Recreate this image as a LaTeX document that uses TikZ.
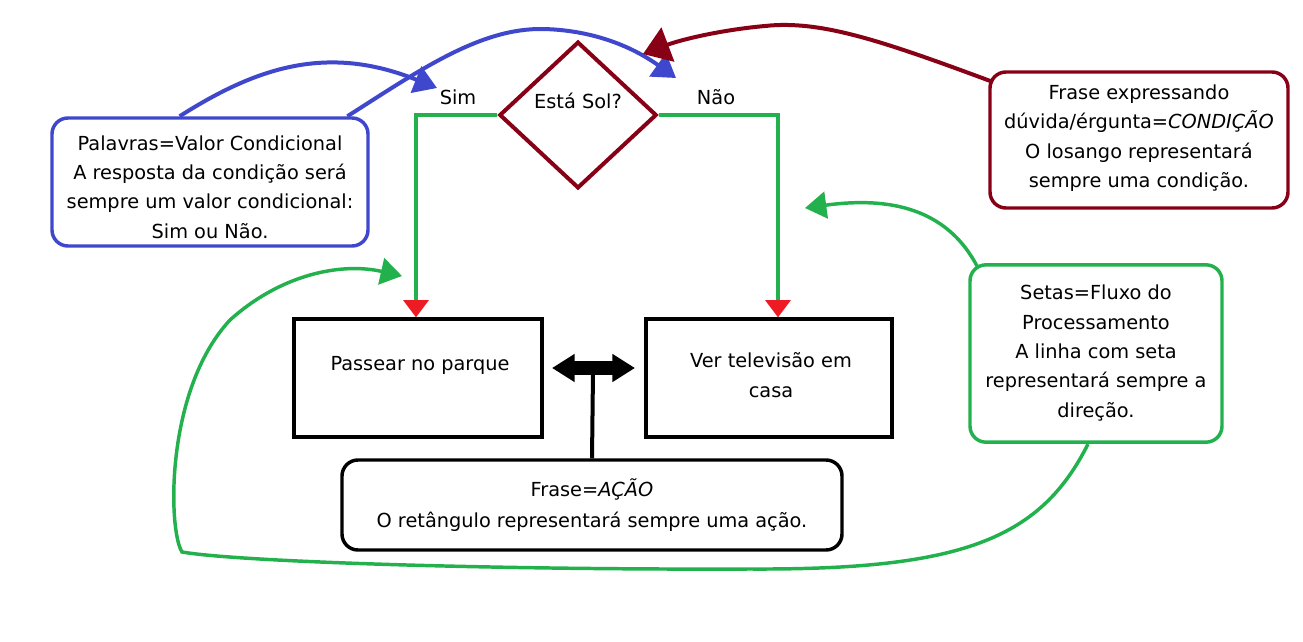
\documentclass[tikz,border=0pt]{standalone}
\usepackage{fontspec}
\setmainfont{DejaVu Sans}
\usetikzlibrary{arrows.meta,shapes.geometric,calc}
\definecolor{cblue}{RGB}{63,72,204}
\definecolor{cred}{RGB}{136,0,21}
\definecolor{cgreen}{RGB}{34,177,76}
\definecolor{cbright}{RGB}{237,28,36}
\begin{document}
\begin{tikzpicture}[x=0.75pt,y=-0.75pt,
  every node/.style={font=\fontsize{14.5}{22}\selectfont, align=center, inner sep=0pt},
  actbox/.style={draw=black, line width=3pt, fill=white},
  notebox/.style={draw, line width=2.6pt, rounded corners=12pt, fill=white},
  flowline/.style={draw=cgreen, line width=2.3pt, -{Triangle[length=13pt,width=19pt,color=cbright]}},
  bluearr/.style={draw=cblue, line width=3pt, -{Triangle[length=17pt,width=21pt]}},
  redarr/.style={draw=cred, line width=3pt, -{Triangle[length=20pt,width=27pt]}},
  greenarr/.style={draw=cgreen, line width=2.6pt, -{Triangle[length=16pt,width=20pt]}}]
\useasboundingbox (0,0) rectangle (1303,642);
\fill[white] (0,0) rectangle (1303,642);

% decision
\node[diamond, draw=cred, line width=3pt, aspect=1.07, minimum width=118pt, minimum height=110pt] (dia) at (578,115) {};
\node (diat) at (578,101) {Está Sol?};
\node (sim) at (458,97) {Sim};
\node (nao) at (716,97) {Não};

% action boxes
\node[actbox, minimum width=186pt, minimum height=88pt] (b1) at (418,378) {};
\node (t1) at (420,365) {Passear no parque};
\node[actbox, minimum width=184pt, minimum height=88pt] (b2) at (769,378) {};
\node (t2) at (771,375) {Ver televisão em\\casa};

% flow lines
\coordinate (s1) at (416,115);
\coordinate (s2) at (778,115);
\draw[flowline] (dia.west) -- (s1) -- (s1 |- b1.north);
\draw[flowline] (dia.east) -- (s2) -- (s2 |- b2.north);

% notes
\node[notebox, draw=black, minimum width=375pt, minimum height=67.5pt] (b3) at (592,505) {Frase=\textit{AÇÃO}\\[1pt]O retângulo representará sempre uma ação.};
\node[notebox, draw=cblue, minimum width=237pt, minimum height=96pt] (bb) at (210,182) {};
\node (bbt) at (210,187) {Palavras=Valor Condicional\\A resposta da condição será\\sempre um valor condicional:\\Sim ou Não.};
\node[notebox, draw=cred, minimum width=223.5pt, minimum height=102pt] (rb) at (1139,140) {};
\node (rbt) at (1139,138) {Frase expressando\\dúvida/érgunta=\textit{CONDIÇÃO}\\O losango representará\\sempre uma condição.};
\node[notebox, draw=cgreen, minimum width=189pt, minimum height=133pt] (gb) at (1096,353.5) {};
\node (gbt) at (1096,353) {Setas=Fluxo do\\Processamento\\A linha com seta\\representará sempre a\\direção.};

% double arrow
\coordinate (da1) at (552,368);
\coordinate (da2) at (635,368);
\coordinate (dam) at (593,372);
\draw[line width=10pt, {Triangle[length=17pt,width=20pt]}-{Triangle[length=17pt,width=20pt]}] (da1) -- (da2);
\draw[line width=3pt] (b3.north) -- (dam);

% blue arrows
\coordinate (bs1) at ($(bb.north west)!0.405!(bb.north east)$);
\coordinate (bs2) at ($(bb.north west)!0.93!(bb.north east)$);
\coordinate (be1) at (437,88);
\coordinate (bp2) at (543,29);
\coordinate (be2) at (676,78);
\draw[bluearr] (bs1) .. controls (260,65) and (330,45) .. (be1);
\draw[bluearr] (bs2) .. controls (420,70) and (480,28) .. (bp2) .. controls (590,30) and (630,45) .. (be2);

% red arrow
\coordinate (rs) at (993,82);
\coordinate (rp) at (765,26);
\coordinate (re) at (643,54);
\draw[redarr] (rs) .. controls (880,40) and (820,20) .. (rp) .. controls (720,30) and (680,40) .. (re);

% green arrows
\coordinate (gs1) at (977,266);
\coordinate (ge1) at (805,208);
\draw[greenarr] (gs1) .. controls (950,215) and (900,195) .. (ge1);
\coordinate (gs2) at (1088,444);
\coordinate (gp1) at (750,569);
\coordinate (gp2) at (182,552);
\coordinate (gp3) at (230,320);
\coordinate (ge2) at (402,276);
\draw[greenarr] (gs2) .. controls (1040,540) and (960,570) .. (gp1) .. controls (500,570) and (240,562) .. (gp2) .. controls (168,530) and (165,390) .. (gp3) .. controls (280,275) and (340,262) .. (ge2);
\end{tikzpicture}
\end{document}
